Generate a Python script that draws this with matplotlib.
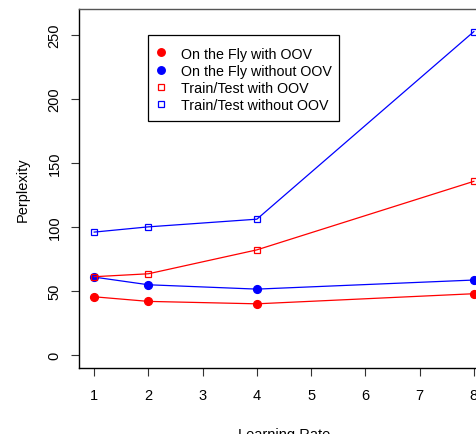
import matplotlib
matplotlib.use("Agg")
import matplotlib.pyplot as plt
from matplotlib.lines import Line2D
from matplotlib.patches import Rectangle

plt.rcParams['font.family'] = ['Liberation Sans', 'DejaVu Sans']

rates = [1, 2, 4, 8]
fly_with_oov = [45.3, 41.7, 39.8, 47.7]
fly_without_oov = [60.7, 54.7, 51.3, 58.4]
tt_with_oov = [61.0, 63.3, 82.0, 135.6]
tt_without_oov = [95.9, 100.0, 106.0, 252.7]
labels = ["On the Fly with OOV", "On the Fly without OOV",
          "Train/Test with OOV", "Train/Test without OOV"]
xticks = [1, 2, 3, 4, 5, 6, 7, 8]
yticks = [0, 50, 100, 150, 200, 250]

W, H = 477, 435
fig = plt.figure(figsize=(W / 100, H / 100), dpi=100)
ax = fig.add_axes([79 / W, 1 - 369 / H, (489 - 79) / W, (369 - 10) / H])

lw = 0.9
cms, sms = 5.6, 4.6
ax.plot(rates, fly_with_oov, color='red', lw=lw, marker='o', ms=cms, mec='red', mfc='red')
ax.plot(rates, fly_without_oov, color='blue', lw=lw, marker='o', ms=cms, mec='blue', mfc='blue')
ax.plot(rates, tt_with_oov, color='red', lw=lw, marker='s', ms=sms, mfc='none', mec='red', mew=0.9)
ax.plot(rates, tt_without_oov, color='blue', lw=lw, marker='s', ms=sms, mfc='none', mec='blue', mew=0.9)

ax.set_xlim(0.72, 8.28)
ax.set_ylim(-10.4, 270.4)
ax.set_xticks(xticks)
ax.set_yticks(yticks)
ax.set_yticklabels([str(v) for v in yticks], rotation=90, va='center')
ax.tick_params(direction='out', length=6, width=0.8, labelsize=10.5, color='#333333')
ax.tick_params(axis='x', pad=8.5)
ax.tick_params(axis='y', pad=6.5)
for s in ax.spines.values():
    s.set_linewidth(1.0)
ax.spines['top'].set_color('#555555')

ax.set_xlabel("Learning Rate", fontsize=10.5, labelpad=18)
ax.set_ylabel("Perplexity", fontsize=10.5, labelpad=13)

# legend drawn manually in figure pixel coordinates
def fx(px):
    return px / W

def fy(py):
    return 1 - py / H

fig.add_artist(Rectangle((fx(148), fy(122)), fx(339) - fx(148), fy(36) - fy(122),
                         transform=fig.transFigure, fill=True, facecolor='white',
                         edgecolor='black', lw=0.9, zorder=5))
rows = [53.3, 70.8, 87.5, 104.5]
styles = [
    dict(marker='o', color='red', ms=5.4),
    dict(marker='o', color='blue', ms=5.4),
    dict(marker='s', mfc='none', mec='red', ms=4.3, mew=0.9),
    dict(marker='s', mfc='none', mec='blue', ms=4.3, mew=0.9),
]
for ry, lab, st in zip(rows, labels, styles):
    fig.add_artist(Line2D([fx(161)], [fy(ry)], ls='none', transform=fig.transFigure,
                          zorder=6, **st))
    fig.text(fx(181), fy(ry), lab, fontsize=10.3, va='center_baseline', ha='left', zorder=6)

fig.savefig("out.png", dpi=100)
